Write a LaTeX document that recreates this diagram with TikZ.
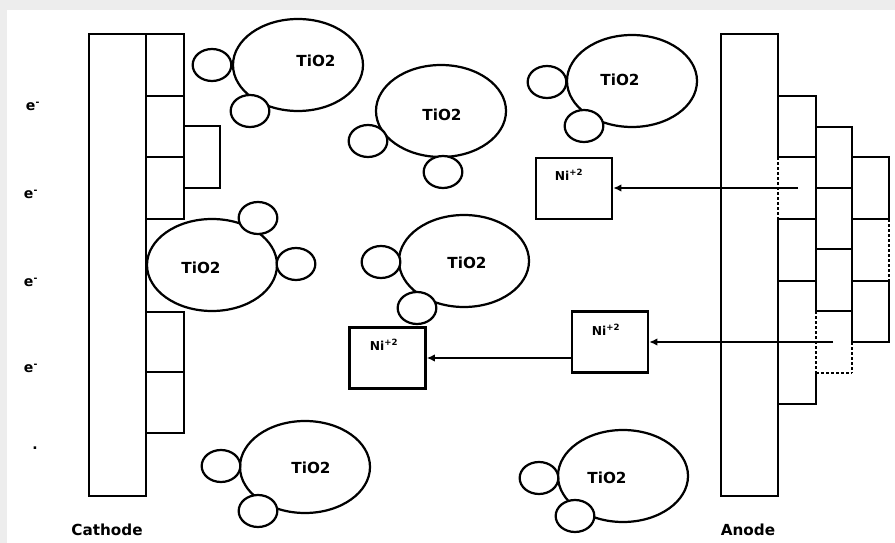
\documentclass[tikz,border=0pt]{standalone}
\usepackage{fontspec}
\newfontfamily\lblfont{DejaVu Sans}
\usetikzlibrary{shapes.geometric,arrows.meta}
\begin{document}
\begin{tikzpicture}[x=0.03cm,y=-0.03cm,
  ln/.style={line width=2.1pt},
  bigE/.style={ellipse,draw,fill=white,line width=1.9pt,minimum width=3.9cm,minimum height=2.76cm,inner sep=0pt},
  smallC/.style={ellipse,draw,fill=white,line width=1.9pt,minimum width=1.16cm,minimum height=0.96cm,inner sep=0pt},
  tio/.style={font=\lblfont\bfseries\fontsize{13}{15}\selectfont,inner sep=0pt},
  nibox/.style={draw,line width=2.1pt,minimum width=2.28cm,minimum height=1.83cm,inner sep=0pt,fill=white},
  nitext/.style={font=\lblfont\bfseries\fontsize{10.5}{12}\selectfont,inner sep=0pt},
  elbl/.style={font=\lblfont\bfseries\fontsize{12}{14}\selectfont,inner sep=0pt},
  dsh/.style={line width=2.1pt,dash pattern=on 2.5pt off 1.8pt},
  wht/.style={white,line width=3.2pt},
  arr/.style={line width=1.8pt,-{Latex[length=7pt,width=6.5pt]}},
]
\fill[black!7] (0,0) rectangle (895,543);
\fill[white] (7,10) rectangle (895,543);
\useasboundingbox (0,0) rectangle (895,543);

% ---------- Cathode ----------
\draw[ln] (146,34) rectangle (184,96);
\draw[ln] (146,96) rectangle (184,157);
\draw[ln] (146,157) rectangle (184,219);
\draw[ln] (184,126) rectangle (220,188);
\draw[ln] (146,312) rectangle (184,372);
\draw[ln] (146,372) rectangle (184,433);
\draw[ln] (89,34) rectangle (146,496);

% ---------- Anode ----------
\draw[ln] (778,96) rectangle (816,157);
\draw[ln] (778,157) rectangle (816,219);
\draw[ln] (778,219) rectangle (816,281);
\draw[ln] (778,281) rectangle (816,342);
\draw[ln] (778,342) rectangle (816,404);
\draw[ln] (816,127) rectangle (852,188);
\draw[ln] (816,188) rectangle (852,249);
\draw[ln] (816,249) rectangle (852,311);
\draw[ln] (852,157) rectangle (889,219);
\draw[ln] (852,219) rectangle (889,281);
\draw[ln] (852,281) rectangle (889,342);
\draw[ln] (721,34) rectangle (778,496);
% dashed (dissolving) edges
\draw[wht] (778,159) -- (778,217);
\draw[dsh] (778,157) -- (778,219);
\draw[wht] (816,313) -- (816,373);
\draw[dsh] (816,311) -- (816,373);
\draw[dsh] (816,373) -- (852,373);
\draw[wht] (852,344) -- (852,373);
\draw[dsh] (852,342) -- (852,373);
\draw[wht] (889,221) -- (889,279);
\draw[dsh] (889,219) -- (889,281);

% ---------- TiO2 clusters ----------
\node[bigE] (t1) at (298,65) {};
\node[smallC] (t1a) at (212,65) {};
\node[smallC] (t1b) at (250,111) {};
\node[tio] (t1l) at (316,61) {TiO2};

\node[bigE] (t2) at (441,111) {};
\node[smallC] (t2a) at (368,141) {};
\node[smallC] (t2b) at (443,172) {};
\node[tio] (t2l) at (442,115) {TiO2};

\node[bigE] (t3) at (632,81) {};
\node[smallC] (t3a) at (547,82) {};
\node[smallC] (t3b) at (584,126) {};
\node[tio] (t3l) at (620,80) {TiO2};

\node[bigE] (t4) at (212,265) {};
\node[smallC] (t4a) at (258,218) {};
\node[smallC] (t4b) at (296,264) {};
\node[tio] (t4l) at (201,268) {TiO2};

\node[bigE] (t5) at (464,261) {};
\node[smallC] (t5a) at (381,262) {};
\node[smallC] (t5b) at (417,308) {};
\node[tio] (t5l) at (467,263) {TiO2};

\node[bigE] (t6) at (305,467) {};
\node[smallC] (t6a) at (221,466) {};
\node[smallC] (t6b) at (258,511) {};
\node[tio] (t6l) at (311,468) {TiO2};

\node[bigE] (t7) at (623,476) {};
\node[smallC] (t7a) at (539,478) {};
\node[smallC] (t7b) at (575,516) {};
\node[tio] (t7l) at (607,478) {TiO2};

% ---------- Ni boxes ----------
\node[nibox] (ni1) at (574,188.5) {};
\node[nitext] (ni1l) at (569,175) {Ni\textsuperscript{+2}};
\node[nibox] (ni2) at (610,342) {};
\node[nitext] (ni2l) at (606,330) {Ni\textsuperscript{+2}};
\node[nibox] (ni3) at (387.5,358) {};
\node[nitext] (ni3l) at (384,345) {Ni\textsuperscript{+2}};

\coordinate (s1) at (798,188);
\coordinate (s2) at (833,342);
\draw[arr] (s1) -- (ni1.east |- s1);
\draw[arr] (s2) -- (ni2.east |- s2);
\draw[arr] (ni2.west |- ni3.east) -- (ni3.east);

% ---------- electrons ----------
\node[elbl] (e1) at (33,106) {e\textsuperscript{-}};
\node[elbl] (e2) at (31,194) {e\textsuperscript{-}};
\node[elbl] (e3) at (31,282) {e\textsuperscript{-}};
\node[elbl] (e4) at (31,368) {e\textsuperscript{-}};
\node[elbl] (e5) at (35,448) {.};

% ---------- labels ----------
\node[tio] (cat) at (107,530) {Cathode};
\node[tio] (ano) at (748,530) {Anode};
\end{tikzpicture}
\end{document}
